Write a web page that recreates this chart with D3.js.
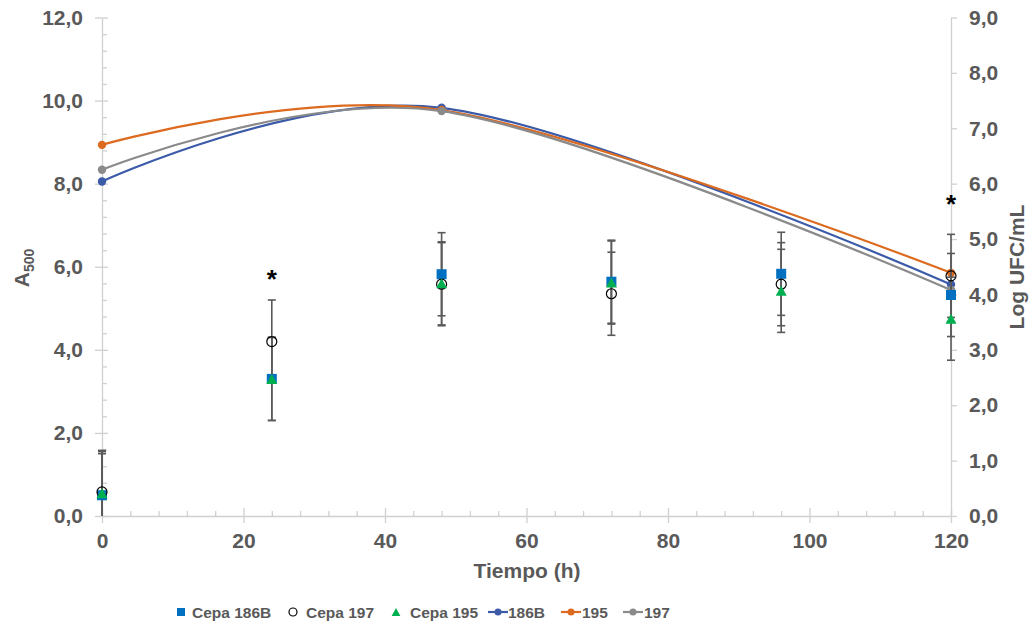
<!DOCTYPE html>
<html>
<head>
<meta charset="utf-8">
<script src="https://cdn.jsdelivr.net/npm/d3@7"></script>
<style>
  html, body { margin: 0; padding: 0; background: #fff; }
  svg { display: block; font-family: "Liberation Sans", Arial, sans-serif; }
</style>
</head>
<body>
<svg id="chart" width="1033" height="626"></svg>
<script>
// ---- data ----
const times = [0, 24, 48, 72, 96, 120];
const cepa186B = [0.50, 3.30, 5.82, 5.64, 5.83, 5.32];
const cepa197  = [0.58, 4.20, 5.58, 5.35, 5.58, 5.78];
const cepa195  = [0.55, 3.30, 5.60, 5.62, 5.42, 4.75];
const errorValue = 1.0;

const lineTimes = [0, 48, 120];
const log186B = [6.04, 7.37, 4.18];
const log195  = [6.70, 7.33, 4.39];
const log197  = [6.25, 7.31, 4.08];

const xTicks = [0, 20, 40, 60, 80, 100, 120];
const yLeftTicks = [0, 2, 4, 6, 8, 10, 12];
const yRightTicks = [0, 1, 2, 3, 4, 5, 6, 7, 8, 9];
const asteriskPoints = [{t: 24, v: 5.85}, {t: 120, v: 7.65}];

// ---- layout ----
const svg = d3.select("#chart");
const textColor = "#595959";
const axisColor = "#d0d0d0";
const x = d3.scaleLinear().domain([0, 120]).range([102, 951]);
const yL = d3.scaleLinear().domain([0, 12]).range([516, 17.5]);
const yR = d3.scaleLinear().domain([0, 9]).range([516, 17.5]);
const fmt = d => d3.format(".1f")(d).replace(".", ",");

function styleAxis(g, size) {
  g.select(".domain").attr("stroke", axisColor).attr("stroke-width", 1.3);
  g.selectAll(".tick line").attr("stroke", axisColor).attr("stroke-width", 1.3);
  g.selectAll(".tick text").attr("fill", textColor).attr("font-size", size)
    .attr("font-weight", "bold").attr("font-family", "'Liberation Sans', Arial, sans-serif");
}

// minor ticks
const minorX = d3.range(0, 121, 4).filter(d => d % 20 !== 0);
svg.append("g").attr("transform", `translate(0,516)`)
  .call(d3.axisBottom(x).tickValues(minorX).tickSize(-5).tickFormat(""))
  .call(g => { g.select(".domain").remove(); g.selectAll("line").attr("stroke", axisColor).attr("stroke-width", 1.3); });
const minorY = d3.range(0, 12.01, 0.4).map(d => +d.toFixed(1)).filter(d => Math.abs(d / 2 - Math.round(d / 2)) > 1e-6);
svg.append("g").attr("transform", `translate(102,0)`)
  .call(d3.axisLeft(yL).tickValues(minorY).tickSize(-5).tickFormat(""))
  .call(g => { g.select(".domain").remove(); g.selectAll("line").attr("stroke", axisColor).attr("stroke-width", 1.3); });

// x axis
const gx = svg.append("g").attr("transform", `translate(0,516)`)
  .call(d3.axisBottom(x).tickValues(xTicks).tickSizeOuter(0).tickSizeInner(7).tickPadding(10).tickFormat(d3.format("d")));
styleAxis(gx, 21);
gx.selectAll(".tick line").attr("y1", -8).attr("y2", 7);

// left axis
const gl = svg.append("g").attr("transform", `translate(102,0)`)
  .call(d3.axisLeft(yL).tickValues(yLeftTicks).tickSizeOuter(0).tickSizeInner(7).tickPadding(12).tickFormat(fmt));
styleAxis(gl, 21);
gl.selectAll(".tick line").attr("x1", 6).attr("x2", -7);

// right axis
const gr = svg.append("g").attr("transform", `translate(951,0)`)
  .call(d3.axisRight(yR).tickValues(yRightTicks).tickSizeOuter(0).tickSizeInner(6).tickPadding(12).tickFormat(fmt));
styleAxis(gr, 21);

// axis titles
svg.append("text").attr("x", 527).attr("y", 578).attr("text-anchor", "middle")
  .attr("font-size", 21).attr("font-weight", "bold").attr("fill", textColor).text("Tiempo (h)");
const at = svg.append("text").attr("transform", "translate(29,268) rotate(-90)").attr("text-anchor", "middle")
  .attr("font-size", 21).attr("font-weight", "bold").attr("fill", textColor);
at.append("tspan").text("A");
at.append("tspan").attr("font-size", 14).attr("dy", 5).text("500");
svg.append("text").attr("transform", "translate(1024,267) rotate(-90)").attr("text-anchor", "middle")
  .attr("font-size", 21).attr("font-weight", "bold").attr("fill", textColor).text("Log UFC/mL");

// ---- lines (secondary axis) ----
const lineSeries = [
  {name: "186B", vals: log186B, color: "#3b5ba9"},
  {name: "195",  vals: log195,  color: "#dc6a1f"},
  {name: "197",  vals: log197,  color: "#8a8a8a"}
];
const lineGen = d3.line().x(d => x(d[0])).y(d => yR(d[1])).curve(d3.curveCardinal.tension(0));
lineSeries.forEach(s => {
  const pts = lineTimes.map((t, i) => [t, s.vals[i]]);
  svg.append("path").datum(pts).attr("d", lineGen).attr("fill", "none")
    .attr("stroke", s.color).attr("stroke-width", 2.2);
  svg.append("g").selectAll("circle").data(pts).join("circle")
    .attr("cx", d => x(d[0])).attr("cy", d => yR(d[1])).attr("r", 4.2).attr("fill", s.color);
});

// ---- scatter with error bars (primary axis) ----
const scatterSeries = [
  {name: "Cepa 186B", vals: cepa186B, type: "square"},
  {name: "Cepa 197",  vals: cepa197,  type: "circle"},
  {name: "Cepa 195",  vals: cepa195,  type: "triangle"}
];
const clipId = "plotclip";
svg.append("clipPath").attr("id", clipId).append("rect").attr("x", 90).attr("y", 0).attr("width", 880).attr("height", 516);
const eb = svg.append("g").attr("clip-path", `url(#${clipId})`);
scatterSeries.forEach(s => {
  times.forEach((t, i) => {
    const v = s.vals[i];
    const g = eb.append("g").attr("stroke", "#5a5a5a").attr("stroke-width", 1.6);
    g.append("line").attr("x1", x(t)).attr("x2", x(t)).attr("y1", yL(v - errorValue)).attr("y2", yL(v + errorValue));
    g.append("line").attr("x1", x(t) - 4).attr("x2", x(t) + 4).attr("y1", yL(v + errorValue)).attr("y2", yL(v + errorValue));
    g.append("line").attr("x1", x(t) - 4).attr("x2", x(t) + 4).attr("y1", yL(v - errorValue)).attr("y2", yL(v - errorValue));
  });
});
function drawMarker(g, type, cx, cy, scale) {
  const k = scale || 1;
  if (type === "square") {
    g.append("rect").attr("x", cx - 5 * k).attr("y", cy - 5 * k).attr("width", 10 * k).attr("height", 10 * k).attr("fill", "#0070c0");
  } else if (type === "circle") {
    g.append("circle").attr("cx", cx).attr("cy", cy).attr("r", 5 * k).attr("fill", "none").attr("stroke", "#000").attr("stroke-width", 1.2);
  } else {
    const h = 10 * k, w = 11 * k;
    g.append("path").attr("d", `M${cx},${cy - h / 2}L${cx + w / 2},${cy + h / 2}L${cx - w / 2},${cy + h / 2}Z`).attr("fill", "#00b050");
  }
}
const mk = svg.append("g");
scatterSeries.forEach(s => {
  times.forEach((t, i) => drawMarker(mk, s.type, x(t), yL(s.vals[i])));
});

// asterisks
svg.append("g").selectAll("text").data(asteriskPoints).join("text")
  .attr("x", d => x(d.t)).attr("y", d => yL(d.v) + 15).attr("text-anchor", "middle")
  .attr("font-size", 26).attr("font-weight", "bold").attr("fill", "#000").text("*");

// ---- legend ----
const legend = svg.append("g");
const ly = 612;
const legItems = [
  {type: "square", label: "Cepa 186B", mx: 181, tx: 192},
  {type: "circle", label: "Cepa 197", mx: 293, tx: 306},
  {type: "triangle", label: "Cepa 195", mx: 396, tx: 410},
  {type: "line", color: "#3b5ba9", label: "186B", mx: 498, tx: 508},
  {type: "line", color: "#dc6a1f", label: "195", mx: 571, tx: 582},
  {type: "line", color: "#8a8a8a", label: "197", mx: 633, tx: 644}
];
legItems.forEach(it => {
  if (it.type === "line") {
    legend.append("line").attr("x1", it.mx - 10).attr("x2", it.mx + 10).attr("y1", ly).attr("y2", ly)
      .attr("stroke", it.color).attr("stroke-width", 2.2);
    legend.append("circle").attr("cx", it.mx).attr("cy", ly).attr("r", 3.5).attr("fill", it.color);
  } else {
    drawMarker(legend, it.type, it.mx, ly, 0.8);
  }
  legend.append("text").attr("x", it.tx).attr("y", ly + 5.5).attr("font-size", 15.5)
    .attr("font-weight", "bold").attr("fill", textColor).text(it.label);
});
</script>
</body>
</html>
